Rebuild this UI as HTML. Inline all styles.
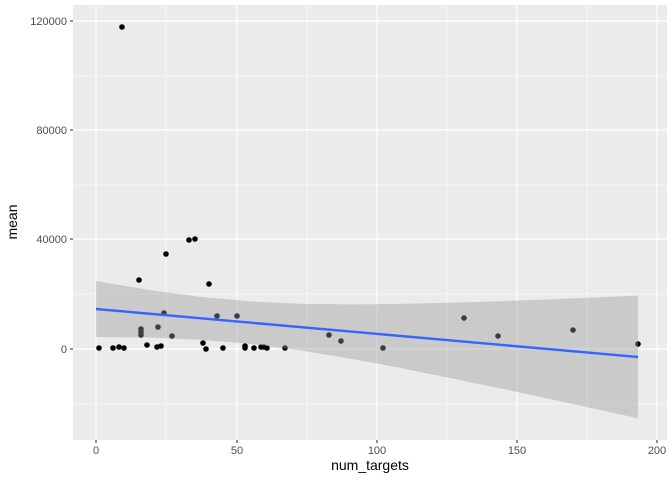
<!DOCTYPE html>
<html><head><style>body{margin:0;background:#fff}svg{display:block}</style></head><body>
<svg width="672" height="480" xmlns="http://www.w3.org/2000/svg" font-family="Liberation Sans, sans-serif">
<rect x="73" y="5" width="594" height="435" fill="#ebebeb"/>
<g stroke="#fff" stroke-width="0.6">
<line x1="73" x2="667" y1="76" y2="76"/><line x1="73" x2="667" y1="185" y2="185"/><line x1="73" x2="667" y1="294" y2="294"/><line x1="73" x2="667" y1="404" y2="404"/>
<line x1="166" x2="166" y1="5" y2="440"/><line x1="307" x2="307" y1="5" y2="440"/><line x1="447" x2="447" y1="5" y2="440"/><line x1="587" x2="587" y1="5" y2="440"/>
</g>
<g stroke="#fff" stroke-width="1.2">
<line x1="73" x2="667" y1="21" y2="21"/><line x1="73" x2="667" y1="130" y2="130"/><line x1="73" x2="667" y1="239" y2="239"/><line x1="73" x2="667" y1="349" y2="349"/>
<line x1="96" x2="96" y1="5" y2="440"/><line x1="237" x2="237" y1="5" y2="440"/><line x1="377" x2="377" y1="5" y2="440"/><line x1="517" x2="517" y1="5" y2="440"/><line x1="657" x2="657" y1="5" y2="440"/>
</g>
<g fill="#000">
<circle cx="99" cy="348" r="2.8"/><circle cx="113" cy="348" r="2.8"/><circle cx="119" cy="347" r="2.8"/><circle cx="124" cy="348" r="2.8"/><circle cx="122" cy="27" r="2.8"/><circle cx="139" cy="280" r="2.8"/><circle cx="141" cy="329" r="2.8"/><circle cx="141" cy="332" r="2.8"/><circle cx="141" cy="335" r="2.8"/><circle cx="147" cy="345" r="2.8"/><circle cx="157" cy="347" r="2.8"/><circle cx="158" cy="327" r="2.8"/><circle cx="161" cy="346" r="2.8"/><circle cx="164" cy="313" r="2.8"/><circle cx="166" cy="254" r="2.8"/><circle cx="172" cy="336" r="2.8"/><circle cx="189" cy="240" r="2.8"/><circle cx="195" cy="239" r="2.8"/><circle cx="203" cy="343" r="2.8"/><circle cx="206" cy="349" r="2.8"/><circle cx="209" cy="284" r="2.8"/><circle cx="217" cy="316" r="2.8"/><circle cx="223" cy="348" r="2.8"/><circle cx="237" cy="316" r="2.8"/><circle cx="245" cy="346" r="2.8"/><circle cx="245" cy="348" r="2.8"/><circle cx="254" cy="348" r="2.8"/><circle cx="261" cy="347" r="2.8"/><circle cx="264" cy="347" r="2.8"/><circle cx="267" cy="348" r="2.8"/><circle cx="285" cy="348" r="2.8"/><circle cx="329" cy="335" r="2.8"/><circle cx="341" cy="341" r="2.8"/><circle cx="383" cy="348" r="2.8"/><circle cx="464" cy="318" r="2.8"/><circle cx="498" cy="336" r="2.8"/><circle cx="573" cy="330" r="2.8"/><circle cx="638" cy="344" r="2.8"/>
</g>
<polygon points="96,281 150,290.1 200,296.9 250,301.4 300,303.8 350,304.4 400,303.9 450,302.8 500,301.2 550,299.4 600,297.3 638,295.7 638,418.3 600,409.9 550,399 500,388.4 450,378 400,367.9 350,358.6 300,350.4 250,343.8 200,339.7 150,337.5 96,337" fill="#999" fill-opacity="0.4"/>
<line x1="96" y1="309" x2="638" y2="357" stroke="#3366ff" stroke-width="2.4"/>
<g stroke="#333" stroke-width="1.1">
<line x1="70" x2="73" y1="21" y2="21"/><line x1="70" x2="73" y1="130" y2="130"/><line x1="70" x2="73" y1="239" y2="239"/><line x1="70" x2="73" y1="349" y2="349"/>
<line x1="96" x2="96" y1="440" y2="443"/><line x1="237" x2="237" y1="440" y2="443"/><line x1="377" x2="377" y1="440" y2="443"/><line x1="517" x2="517" y1="440" y2="443"/><line x1="657" x2="657" y1="440" y2="443"/>
</g>
<g fill="#4d4d4d" font-size="11" text-anchor="end">
<text x="67" y="25">120000</text><text x="67" y="134">80000</text><text x="67" y="243">40000</text><text x="67" y="353">0</text>
</g>
<g fill="#4d4d4d" font-size="11" text-anchor="middle">
<text x="96" y="454">0</text><text x="237" y="454">50</text><text x="377" y="454">100</text><text x="517" y="454">150</text><text x="657" y="454">200</text>
</g>
<text x="370" y="470" font-size="14" text-anchor="middle">num_targets</text>
<text x="17" y="222" font-size="14" text-anchor="middle" transform="rotate(-90 17 222)">mean</text>
</svg>
</body></html>
